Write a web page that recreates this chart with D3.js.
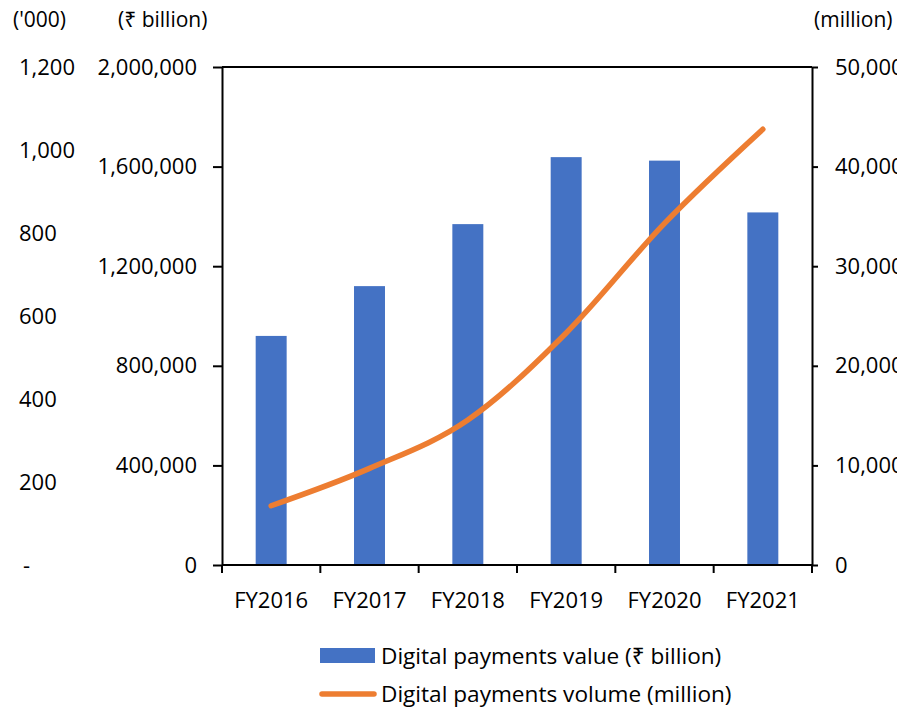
<!DOCTYPE html>
<html>
<head>
<meta charset="utf-8">
<script src="https://cdn.jsdelivr.net/npm/d3@7/dist/d3.min.js"></script>
<style>
  html, body { margin: 0; padding: 0; background: #fff; }
  svg { display: block; }
  text { font-family: "Open Sans", "Noto Sans", sans-serif; fill: #000; }
</style>
</head>
<body>
<svg id="chart" width="897" height="708"></svg>
<script>
// Fiscal years on the category axis
const categories = ["FY2016", "FY2017", "FY2018", "FY2019", "FY2020", "FY2021"];
// Digital payments value, ₹ billion (bars, inner left axis)
const paymentValue = [920000, 1120000, 1369000, 1638000, 1624000, 1416000];
// Digital payments volume, million (line, right axis)
const paymentVolume = [5950, 9700, 14560, 23300, 34300, 43750];
// Tick values for the three value axes
const valueTicks = [0, 400000, 800000, 1200000, 1600000, 2000000];
const thousandTicks = [0, 200, 400, 600, 800, 1000, 1200];
const volumeTicks = [0, 10000, 20000, 30000, 40000, 50000];

const seriesNames = ["Digital payments value (₹ billion)", "Digital payments volume (million)"];
const barColor = "#4472C4";
const lineColor = "#ED7D31";
const fontSize = 22;
const legendFontSize = 22.6;

const svg = d3.select("#chart");
const plot = { left: 222, right: 812, top: 67, bottom: 565 };

const x = d3.scaleBand().domain(categories).range([plot.left, plot.right]).padding(0);
const yValue = d3.scaleLinear().domain([0, 2000000]).range([plot.bottom, plot.top]);
const yThousand = d3.scaleLinear().domain([0, 1200]).range([plot.bottom, plot.top]);
const yVolume = d3.scaleLinear().domain([0, 50000]).range([plot.bottom, plot.top]);

const fmt = d3.format(",");

// Bars
const barW = x.bandwidth() * 0.315;
svg.append("g").selectAll("rect")
  .data(categories)
  .join("rect")
  .attr("x", (d) => x(d) + (x.bandwidth() - barW) / 2)
  .attr("y", (d, i) => yValue(paymentValue[i]))
  .attr("width", barW)
  .attr("height", (d, i) => yValue(0) - yValue(paymentValue[i]))
  .attr("fill", barColor);

// Top border of the plot area
svg.append("line")
  .attr("x1", plot.left).attr("x2", plot.right)
  .attr("y1", plot.top).attr("y2", plot.top)
  .attr("stroke", "#000").attr("stroke-width", 2);

// Inner left axis (₹ billion)
const leftAxis = svg.append("g")
  .attr("transform", `translate(${plot.left},0)`)
  .call(d3.axisLeft(yValue).tickValues(valueTicks).tickFormat(fmt)
    .tickSize(9).tickSizeOuter(0).tickPadding(16));

// Right axis (million)
const rightAxis = svg.append("g")
  .attr("transform", `translate(${plot.right},0)`)
  .call(d3.axisRight(yVolume).tickValues(volumeTicks).tickFormat(fmt)
    .tickSize(6).tickSizeOuter(0).tickPadding(17));

// Category axis: ticks on band boundaries, labels at band centres
const xAxis = svg.append("g").attr("transform", `translate(0,${plot.bottom})`);
xAxis.append("line")
  .attr("x1", plot.left).attr("x2", plot.right)
  .attr("stroke", "#000").attr("stroke-width", 2);
const boundaries = categories.map((d) => x(d)).concat([plot.right]);
xAxis.selectAll("line.tick")
  .data(boundaries)
  .join("line")
  .attr("class", "tick")
  .attr("x1", (d) => d).attr("x2", (d) => d)
  .attr("y1", 0).attr("y2", 8)
  .attr("stroke", "#000").attr("stroke-width", 2);
xAxis.selectAll("text")
  .data(categories)
  .join("text")
  .attr("x", (d) => x(d) + x.bandwidth() / 2)
  .attr("y", 43)
  .attr("text-anchor", "middle")
  .style("font-size", fontSize + "px")
  .text((d) => d);

[leftAxis, rightAxis].forEach((g) => {
  g.select(".domain").attr("stroke", "#000").attr("stroke-width", 2);
  g.selectAll(".tick line").attr("stroke", "#000").attr("stroke-width", 2);
  g.selectAll(".tick text").style("font-size", fontSize + "px").attr("fill", "#000");
});

// Outer left axis ('000), labels only, accounting style dash for zero
svg.append("g").selectAll("text")
  .data(thousandTicks)
  .join("text")
  .attr("x", (d) => d === 0 ? 23 : 19)
  .attr("y", (d) => yThousand(d))
  .attr("dy", "0.35em")
  .style("font-size", fontSize + "px")
  .text((d) => d === 0 ? "-" : fmt(d));

// Unit captions above the axes
const captions = [
  { text: "('000)", x: 13 },
  { text: "(₹ billion)", x: 118 },
  { text: "(million)", x: 814 }
];
svg.append("g").selectAll("text")
  .data(captions)
  .join("text")
  .attr("x", (d) => d.x)
  .attr("y", 27)
  .style("font-size", (fontSize - 1) + "px")
  .text((d) => d.text);

// Volume line, smoothed
const line = d3.line()
  .x((d, i) => x(categories[i]) + x.bandwidth() / 2)
  .y((d) => yVolume(d))
  .curve(d3.curveCardinal.tension(0));
svg.append("path")
  .datum(paymentVolume)
  .attr("d", line)
  .attr("fill", "none")
  .attr("stroke", lineColor)
  .attr("stroke-width", 5.5)
  .attr("stroke-linecap", "round")
  .attr("stroke-linejoin", "round");

// Legend
const legend = svg.append("g");
legend.append("rect")
  .attr("x", 320).attr("y", 648).attr("width", 55).attr("height", 15)
  .attr("fill", barColor);
legend.append("line")
  .attr("x1", 322).attr("x2", 374).attr("y1", 694).attr("y2", 694)
  .attr("stroke", lineColor).attr("stroke-width", 5.5).attr("stroke-linecap", "round");
legend.selectAll("text")
  .data(seriesNames)
  .join("text")
  .attr("x", 381)
  .attr("y", (d, i) => i === 0 ? 656 : 694)
  .attr("dy", "0.35em")
  .style("font-size", legendFontSize + "px")
  .text((d) => d);
</script>
</body>
</html>
